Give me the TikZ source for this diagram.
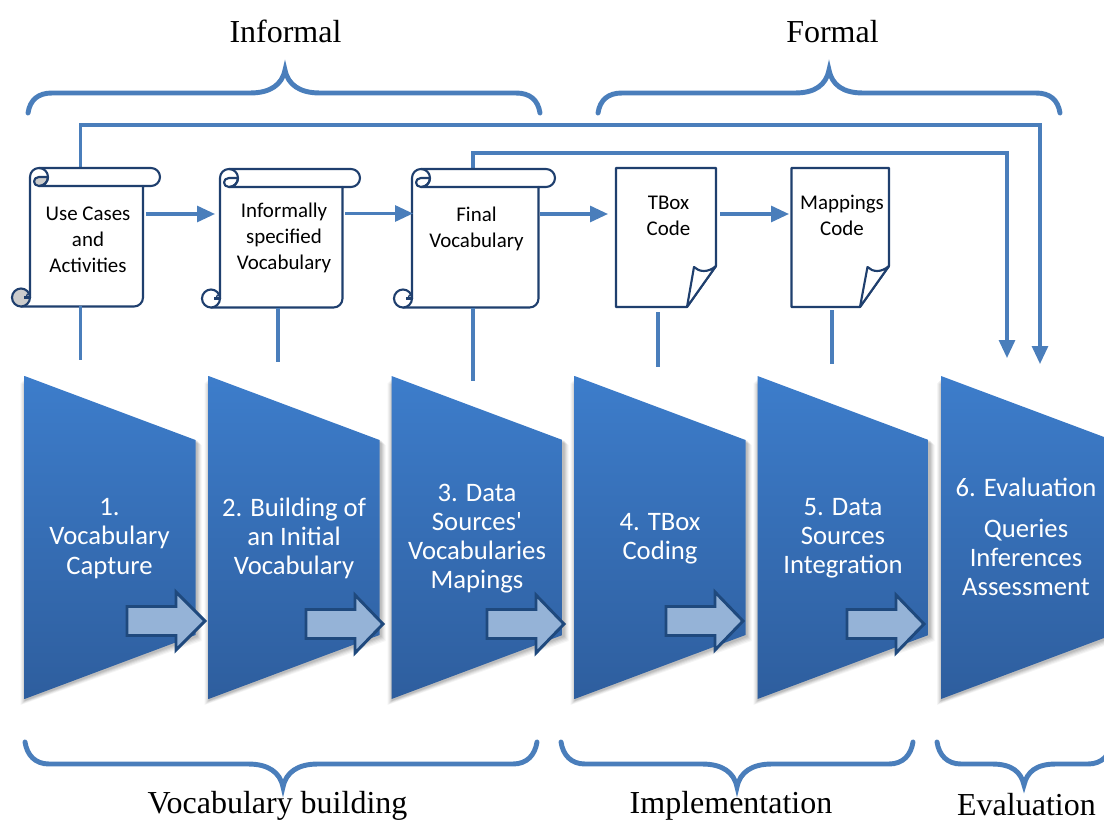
\documentclass[tikz,border=0pt]{standalone}
\usepackage{fontspec}
\setmainfont{Carlito}
\newfontfamily\plainface{Carlito}
\newfontfamily\serifface{Liberation Serif}
\usetikzlibrary{arrows.meta,calc}
\definecolor{linkblue}{HTML}{4A7EBB}
\definecolor{edgeblue}{HTML}{1F3F6E}
\definecolor{trtop}{HTML}{3D7DCB}
\definecolor{trbot}{HTML}{2E5E9E}
\definecolor{fatfill}{HTML}{95B3D7}
\definecolor{fatedge}{HTML}{1F497D}
\tikzset{
  link/.style={draw=linkblue,line width=2.3pt},
  linkarrow/.style={link,-{Triangle[length=13.5pt,width=12pt]}},
  bracepath/.style={draw=linkblue,line width=3.7pt,line cap=round},
  docshape/.style={draw=edgeblue,line width=1.6pt,fill=white,line join=round},
  fatarrow/.style={draw=fatedge,line width=2.2pt,fill=fatfill,miter limit=10},
  trap/.style={top color=trtop,bottom color=trbot,draw=none},
  boxtext/.style={align=center,font=\fontsize{15.7}{19.5}\selectfont,text=black,inner sep=0pt},
  traptext/.style={align=center,font=\fontsize{20}{21.8}\selectfont,text=white,inner sep=0pt},
  bigtext/.style={font=\serifface\fontsize{24}{28}\selectfont,inner sep=0pt},
  anchorbox/.style={inner sep=0pt,minimum width=#1,draw=none}
}
% x-left, x-right, x-end of roll, y-top, y-bottom, curl fill
\newcommand{\scrollshape}[6]{
  \path[docshape] (#1,#4+9) .. controls (#1,#4+4) and (#1+4,#4) .. (#1+9,#4) -- (#3-9,#4)
    .. controls (#3-4,#4) and (#3,#4+4) .. (#3,#4+9)
    .. controls (#3,#4+14) and (#3-4,#4+18) .. (#3-9,#4+18) -- (#2,#4+18) -- (#2,#5-9)
    .. controls (#2,#5-4) and (#2-4,#5) .. (#2-9,#5) -- (#1-9,#5) -- (#1-9,#5-9) -- (#1,#5-9) -- cycle;
  % top curl
  \path[draw=edgeblue,line width=1.6pt,fill=#6,line join=round] (#1+9,#4+9)
    .. controls (#1+6,#4+9) and (#1+4,#4+11) .. (#1+4,#4+13.5)
    .. controls (#1+4,#4+16) and (#1+6,#4+18) .. (#1+9,#4+18)
    .. controls (#1+14,#4+18) and (#1+18,#4+14) .. (#1+18,#4+9) -- cycle;
  \path[draw=edgeblue,line width=1.6pt,line join=round] (#1+9,#4)
    .. controls (#1+14,#4) and (#1+18,#4+4) .. (#1+18,#4+9)
    .. controls (#1+18,#4+14) and (#1+14,#4+18) .. (#1+9,#4+18) -- (#2,#4+18);
  % bottom curl
  \path[draw=edgeblue,line width=1.6pt,fill=#6] (#1-9,#5-9) circle[radius=9];
  \path[draw=edgeblue,line width=1.6pt] (#1,#5-9) -- (#1-6,#5-9);
  \path[draw=edgeblue,line width=1pt] (#1-4,#5-9) .. controls (#1-4,#5-12) and (#1-2,#5-13) .. (#1,#5-13);
}
% x-left, x-right, x-fold, x-inner, y-top, y-bottom
\newcommand{\docpage}[6]{
  \path[docshape] (#1,#5) -- (#2,#5) -- (#2,#6-41) -- (#3,#6) -- (#1,#6) -- cycle;
  \path[docshape] (#2,#6-41) .. controls (#2-8,#6-34) and (#4+5,#6-35) .. (#4,#6-40) -- (#3,#6) -- cycle;
}
\newcommand{\trapshape}[1]{
  \foreach \k/\o in {5/0.04,4/0.05,3/0.06,2/0.07,1/0.08}{
    \fill[black,opacity=\o] (#1+1-\k,380+\k-2) -- (#1+172+\k,444+\k-4) -- (#1+172+\k,636+\k) -- (#1+1-\k,700+\k) -- cycle;
  }
  \path[trap] (#1,376) -- (#1+171,440) -- (#1+171,635) -- (#1,699) -- cycle;
}
% x tail-left, x head-base, x tip, y tip
\newcommand{\fatshape}[4]{
  \path[fatarrow] (#1,#4-14.5) -- (#2,#4-14.5) -- (#2,#4-29) -- (#3,#4) -- (#2,#4+29) -- (#2,#4+14.5) -- (#1,#4+14.5) -- cycle;
}
\begin{document}
\begin{tikzpicture}[x=0.75pt,y=-0.75pt]
\useasboundingbox (0,0) rectangle (1104,820);
\clip (0,0) rectangle (1104,820);

% trapezoids
\trapshape{24.5} \trapshape{208.5} \trapshape{391.5} \trapshape{574.5} \trapshape{757.5} \trapshape{941}

% long connectors behind scrolls
\node[anchorbox=1pt] (s1top) at (80.5,168) {};
\node[anchorbox=1pt] (s3top) at (473,168) {};
\coordinate (e1) at (1040,364);
\coordinate (e2) at (1007,358);
\coordinate (c1a) at (80.5,125);
\coordinate (c1b) at (1040,125);
\coordinate (c2a) at (473,153);
\coordinate (c2b) at (1007,153);
\draw[linkarrow] (s1top.center) -- (c1a) -- (c1b) -- (e1);
\draw[linkarrow] (s3top.center) -- (c2a) -- (c2b) -- (e2);

% scrolls and documents
\scrollshape{30}{143}{160}{168}{306.5}{gray!40}
\scrollshape{220}{342.5}{360}{169}{307.5}{white}
\scrollshape{412}{538.5}{555}{169}{307.5}{white}
\docpage{616}{716}{687}{694}{168}{307}
\docpage{791.5}{889}{860}{867.5}{168}{307}

\node[boxtext] (doc1) at (88,239.5) {Use Cases\\and\\Activities};
\node[boxtext] (doc2) at (284,237.5) {Informally\\specified\\Vocabulary};
\node[boxtext] (doc3) at (476.5,229) {Final\\Vocabulary};
\node[boxtext] (doc4) at (668.5,216) {TBox\\Code};
\node[boxtext] (doc5) at (842,215) {Mappings\\Code};

% arrows between documents
\coordinate (a1s) at (146,214); \coordinate (a1e) at (215,214);
\coordinate (a2s) at (345,213.5); \coordinate (a2e) at (413,213.5);
\coordinate (a3s) at (540,214); \coordinate (a3e) at (608,214);
\coordinate (a4s) at (720,214); \coordinate (a4e) at (789,214);
\draw[linkarrow] (a1s) -- (a1e);
\draw[linkarrow] (a2s) -- (a2e);
\draw[linkarrow] (a3s) -- (a3e);
\draw[linkarrow] (a4s) -- (a4e);

% vertical ties
\coordinate (v1a) at (80.5,306.5); \coordinate (v1b) at (80.5,360);
\coordinate (v2a) at (278,307.5); \coordinate (v2b) at (278,362);
\coordinate (v3a) at (473,307.5); \coordinate (v3b) at (473,381);
\coordinate (v4a) at (658,312); \coordinate (v4b) at (658,367);
\coordinate (v5a) at (832,310); \coordinate (v5b) at (832,364);
\draw[link] (v1a) -- (v1b);
\draw[link] (v2a) -- (v2b);
\draw[link] (v3a) -- (v3b);
\draw[link] (v4a) -- (v4b);
\draw[link] (v5a) -- (v5b);

% trapezoid texts
\node[traptext] (t1) at (109.5,538.5) {1.\\Vocabulary\\Capture};
\node[traptext] (t2) at (294,538.5) {2. Building of\\an Initial\\Vocabulary};
\node[traptext] (t3) at (477,539) {3. Data\\Sources{\plainface '}\\Vocabularies\\Mapings};
\node[traptext] (t4) at (660,538.5) {4. TBox\\Coding};
\node[traptext] (t5) at (843,538) {5. Data\\Sources\\Integration};
\node[traptext] (t6a) at (1026,487) {6. Evaluation};
\node[traptext] (t6b) at (1026,557) {Queries\\Inferences\\Assessment};

% fat arrows
\fatshape{127}{176}{205}{621}
\fatshape{306}{355}{383}{624}
\fatshape{487}{536}{564}{624}
\fatshape{666}{715}{743}{621}
\fatshape{847}{896}{924}{624}

% braces
\draw[bracepath] (28,113) .. controls (30,100) and (38,93) .. (52,93) -- (250,93)
  .. controls (270,93) and (282,85) .. (285,70) .. controls (288,85) and (300,93) .. (320,93)
  -- (516,93) .. controls (530,93) and (538,100) .. (540,113);
\draw[bracepath] (598,113) .. controls (600,100) and (608,93) .. (622,93) -- (795,93)
  .. controls (815,93) and (826,85) .. (829,70) .. controls (832,85) and (843,93) .. (863,93)
  -- (1036,93) .. controls (1050,93) and (1058,100) .. (1060,113);
\draw[bracepath] (25,742) .. controls (27,755) and (35,764) .. (49,764) -- (248,764)
  .. controls (268,764) and (280,772) .. (283,787) .. controls (286,772) and (298,764) .. (318,764)
  -- (513,764) .. controls (527,764) and (535,755) .. (537,742);
\draw[bracepath] (561,742) .. controls (563,755) and (571,764) .. (585,764) -- (702,764)
  .. controls (722,764) and (734,772) .. (737,787) .. controls (740,772) and (752,764) .. (772,764)
  -- (889,764) .. controls (903,764) and (911,755) .. (913,742);
\draw[bracepath] (937,742) .. controls (939,755) and (947,764) .. (961,764) -- (992,764)
  .. controls (1012,764) and (1021,772) .. (1024,785) .. controls (1027,772) and (1036,764) .. (1056,764)
  -- (1088,764) .. controls (1102,764) and (1110,755) .. (1112,742);

% big labels
\node[bigtext] (l1) at (285.5,31) {Informal};
\node[bigtext] (l2) at (832.5,32) {Formal};
\node[bigtext] (l3) at (277.5,805.5) {Vocabulary building};
\node[bigtext] (l4) at (731,806) {Implementation};
\node[bigtext] (l5) at (1026.5,804.5) {Evaluation};
\end{tikzpicture}
\end{document}
